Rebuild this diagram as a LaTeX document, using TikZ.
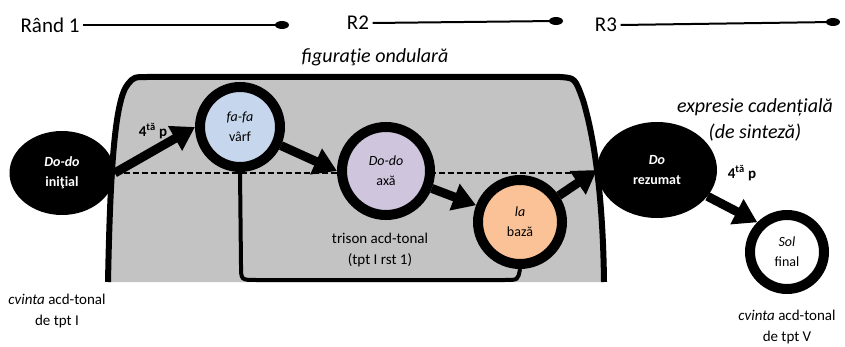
\documentclass[tikz,border=0pt]{standalone}
\usepackage{fontspec}
\setmainfont{Carlito}
\usetikzlibrary{arrows.meta,shapes.geometric,backgrounds}
\definecolor{greyfill}{HTML}{C3C3C3}
\definecolor{skyfill}{HTML}{C6D6EC}
\definecolor{lilafill}{HTML}{CFC6DE}
\definecolor{peachfill}{HTML}{FAC296}
\tikzset{
	ring/.style={circle, draw=black, line width=10pt, minimum size=84pt, inner sep=0pt, align=center, font=\fontsize{14}{20}\selectfont},
	blob/.style={ellipse, fill=black, text=white, inner sep=0pt, align=center, font=\bfseries\fontsize{14}{20}\selectfont},
	jump/.style={line width=9pt, -{Triangle[length=23pt,width=27pt]}},
	row/.style={line width=2pt},
	note/.style={align=center, font=\fontsize{15}{21}\selectfont},
	title/.style={font=\fontsize{21}{24}\selectfont},
	remark/.style={align=center, font=\itshape\fontsize{20}{26}\selectfont},
	fourth/.style={font=\bfseries\fontsize{15}{16}\selectfont},
}
\begin{document}
\begin{tikzpicture}[x=1pt,y=-1pt]
		\useasboundingbox (0,0) rectangle (845,347);
		% rows
		\node[title] (r1) at (50,25) {Rând 1};
		\node[title] (r2) at (358,23) {R2};
		\node[title] (r3) at (606,25) {R3};
		\coordinate (e1) at (282,25);
		\coordinate (e2) at (556,21);
		\coordinate (e3) at (833,22);
		\draw[row] (r1.east) -- (e1);
		\draw[row] (r2.east) -- (e2);
		\draw[row] (r3.east) -- (e3);
		\foreach \e in {e1,e2,e3}
			\fill (\e) ellipse (7pt and 4pt);
		\node[remark] (fig) at (375,57) {figuraţie ondulară};
		\node[remark] (cad) at (755,120) {expresie cadențială\\(de sinteză)};
		% nodes
		\node[blob, minimum width=105pt, minimum height=84pt] (ini) at (62,173) {\textit{Do-do}\\iniţial};
		\node[ring, fill=skyfill, minimum size=80pt] (fa) at (240,127) {\textit{fa-fa}\\vârf};
		\node[ring, fill=lilafill, minimum size=88pt] (axa) at (386,171) {\textit{Do-do}\\axă};
		\node[ring, fill=peachfill] (baza) at (520,222) {\textit{la}\\bază};
		\node[blob, minimum width=120pt, minimum height=96pt] (rez) at (657,170) {\textit{Do}\\rezumat};
		\node[ring, fill=white, minimum size=74pt] (fin) at (787,252) {\textit{Sol}\\final};
		% background
		\begin{scope}[on background layer]
			\fill[greyfill] (108,282) .. controls (110,180) and (114,100) .. (128,84) .. controls (134,77) .. (148,77) -- (560,77) .. controls (575,78) .. (583,100) .. controls (595,140) and (603,200) .. (604,282) -- cycle;
			\draw[line width=6pt] (108,282) .. controls (110,180) and (114,100) .. (128,84) .. controls (134,77) .. (148,77) -- (560,77) .. controls (575,78) .. (583,100) .. controls (595,140) and (603,200) .. (604,282);
			\draw[line width=2pt, dash pattern=on 6pt off 3pt] (ini.east) -- (ini.east -| rez.west);
			\draw[line width=4pt] (fa.south) -- (241,265) .. controls (241,280) .. (256,280) -- (505,280) .. controls (518,280) .. (baza.south);
		\end{scope}
		% arrows
		\draw[jump] (ini.east) -- (fa.west);
		\draw[jump] (fa) -- (axa.west);
		\draw[jump] (axa) -- (baza);
		\draw[jump] (baza) -- (rez.west);
		\draw[jump] (rez) -- (fin.north west);
		\node[fourth] (p1) at (153,131) {4\textsuperscript{tă} p};
		\node[fourth] (p2) at (742,173) {4\textsuperscript{tă} p};
		% notes
		\node[note] (n1) at (380,250) {trison acd-tonal\\(tpt I rst 1)};
		\node[note] (n2) at (57,311) {\textit{cvinta} acd-tonal\\de tpt I};
		\node[note] (n3) at (787,327) {\textit{cvinta} acd-tonal\\de tpt V};
	\end{tikzpicture}
\end{document}
